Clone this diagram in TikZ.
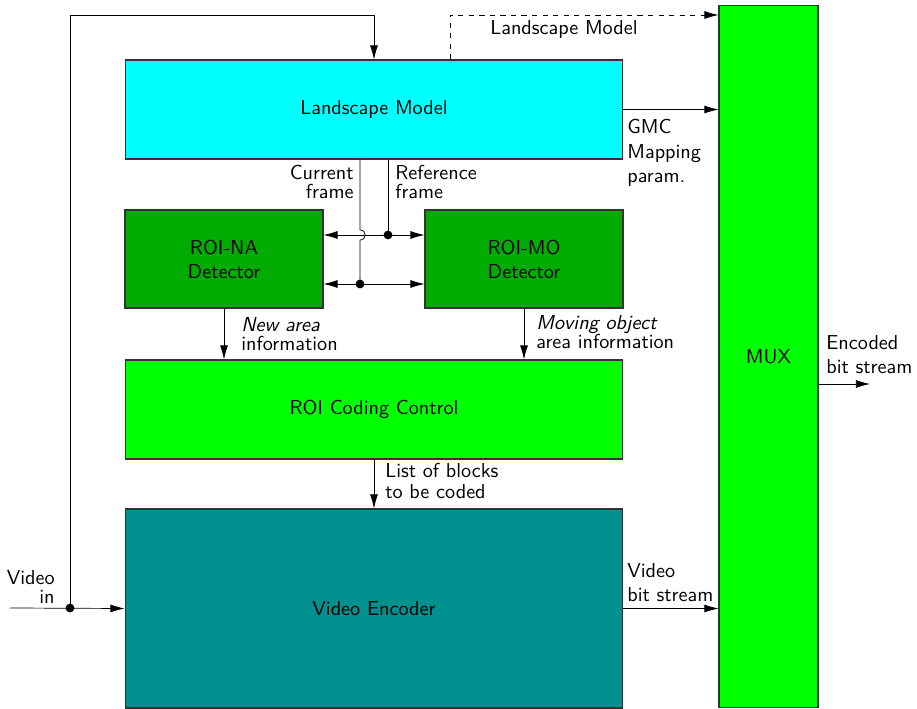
\documentclass[tikz,border=0pt]{standalone}
\usepackage{fontspec}
\setsansfont{lmsans10-regular.otf}[ItalicFont=lmsans10-oblique.otf,BoldFont=lmsans10-bold.otf]
\usepackage{tikz}
\usetikzlibrary{arrows.meta,calc,positioning}
\definecolor{lmc}{RGB}{0,255,255}
\definecolor{det}{RGB}{0,172,0}
\definecolor{ctl}{RGB}{0,255,0}
\definecolor{enc}{RGB}{0,144,142}

\begin{document}
\begin{tikzpicture}[x=0.02cm,y=-0.02cm,
  lbl/.style={font=\sffamily\fontsize{11.5}{10.9}\selectfont,inner sep=0pt},
  wide/.style={font=\sffamily\fontsize{11.5}{14}\selectfont},
  blk/.style={draw=black!80,line width=0.6pt,align=center,
    font=\sffamily\fontsize{11.5}{13.6}\selectfont},
  arr/.style={-{Latex[length=8pt,width=4.5pt]}},
  jn/.style={circle,fill,inner sep=0pt,minimum size=5pt}]
  \useasboundingbox (0,0) rectangle (917,709);
  % blocks
  \node[blk,fill=lmc,minimum width=9.96cm,minimum height=1.98cm] (lm) at (374,109.5) {Landscape Model};
  \node[blk,fill=det,minimum width=3.96cm,minimum height=1.96cm] (na) at (224,259) {ROI-NA\\Detector};
  \node[blk,fill=det,minimum width=3.96cm,minimum height=1.96cm] (mo) at (524,259) {ROI-MO\\Detector};
  \node[blk,fill=ctl,minimum width=9.96cm,minimum height=1.98cm] (cc) at (374,409.5) {ROI Coding Control};
  \node[blk,fill=enc,minimum width=9.96cm,minimum height=3.98cm] (ve) at (374,608.5) {Video Encoder};
  \node[blk,fill=ctl,minimum width=1.98cm,minimum height=14.06cm] (mux) at (768.5,356.5) {MUX};
  % video in and feedback to the model
  \coordinate (vin) at (10,608);
  \coordinate (split) at (70,608);
  \coordinate (lmin) at (lm.north |- 0,15);
  \draw[arr] (vin) -- (ve.west);
  \draw[arr] (split) |- (lmin) -- (lm.north);
  \node[jn] at (split) {};
  \node[lbl,anchor=north east,align=right] (vinl) at (55,570) {Video\\in};
  % model outputs
  \coordinate (dtap) at ($(lm.north)+(76,0)$);
  \draw[arr,dashed] (dtap) |- (mux.west |- 0,15);
  \node[lbl,anchor=west] (lml) at (490,29) {Landscape Model};
  \draw[arr] (lm.east) -- (lm.east -| mux.west);
  \node[lbl,wide,anchor=north west,align=left] (gmcl) at (627,119) {GMC\\Mapping\\param.};
  % current / reference frame
  \coordinate (cur) at ($(lm.south)+(-14,0)$);
  \coordinate (ref) at ($(lm.south)+(14,0)$);
  \coordinate (up) at (na.east |- 0,235);
  \coordinate (dn) at (na.east |- 0,284);
  \draw (cur) -- (cur |- 0,230) .. controls (367,230) and (367,240) .. (cur |- 0,240) -- (cur |- dn);
  \draw (ref) -- (ref |- up);
  \draw[arr] (ref |- up) -- (up);
  \draw[arr] (ref |- up) -- (mo.west |- up);
  \draw[arr] (cur |- dn) -- (dn);
  \draw[arr] (cur |- dn) -- (mo.west |- dn);
  \node[jn] at (ref |- up) {};
  \node[jn] at (cur |- dn) {};
  \node[lbl,anchor=north east,align=right] (curl) at (354,165) {Current\\frame};
  \node[lbl,anchor=north west,align=left] (refl) at (395,165) {Reference\\frame};
  % detector outputs
  \draw[arr] (na.south) -- (na.south |- cc.north);
  \draw[arr] (mo.south) -- (mo.south |- cc.north);
  \node[lbl,anchor=north west,align=left] (nal) at (241,317) {\itshape New area\\information};
  \node[lbl,anchor=north west,align=left] (mol) at (536,315) {\itshape Moving object\\area information};
  \draw[arr] (cc.south) -- (ve.north);
  \node[lbl,anchor=north west,align=left,font=\sffamily\fontsize{11.5}{12}\selectfont] (bll) at (385,463) {List of blocks\\to be coded};
  % streams
  \draw[arr] (ve.east) -- (ve.east -| mux.west);
  \node[lbl,wide,anchor=north west,align=left] (vbl) at (627,563) {Video\\bit stream};
  \coordinate (eout) at (870,384);
  \draw[arr] (mux.east |- eout) -- (eout);
  \node[lbl,wide,anchor=north west,align=left] (enl) at (826,335) {Encoded\\bit stream};
\end{tikzpicture}
\end{document}
